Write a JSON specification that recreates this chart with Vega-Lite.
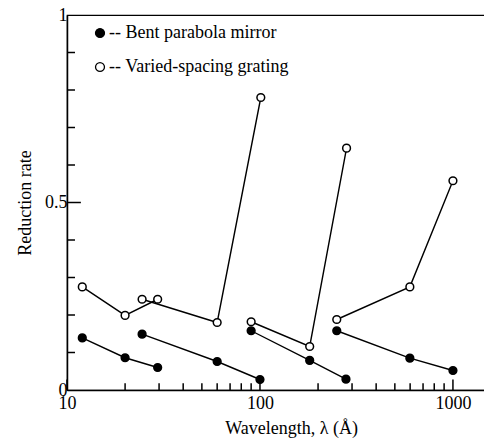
{
  "$schema": "https://vega.github.io/schema/vega-lite/v6.json",
  "width": 418,
  "height": 375,
  "autosize": {"type": "none"},
  "padding": {"left": 67, "top": 15, "right": 0, "bottom": 51},
  "background": "white",
  "config": {
    "view": {"stroke": "black", "strokeWidth": 1.2},
    "font": "Liberation Serif",
    "legend": {"labelFont": "Liberation Serif"},
    "axis": {"grid": false, "ticks": false, "domainColor": "black", "domainWidth": 1.5, "labelColor": "black", "titleColor": "black", "labelFont": "Liberation Serif", "titleFont": "Liberation Serif", "labelFontSize": 18, "titleFontSize": 18, "titleFontWeight": "normal"}
  },
  "datasets": {
    "curves": [
      {"series": "Bent parabola mirror", "grp": "f1", "wl": 12, "rate": 0.139},
      {"series": "Bent parabola mirror", "grp": "f1", "wl": 20, "rate": 0.086},
      {"series": "Bent parabola mirror", "grp": "f1", "wl": 29.5, "rate": 0.060},
      {"series": "Bent parabola mirror", "grp": "f2", "wl": 24.5, "rate": 0.149},
      {"series": "Bent parabola mirror", "grp": "f2", "wl": 60, "rate": 0.076},
      {"series": "Bent parabola mirror", "grp": "f2", "wl": 100, "rate": 0.028},
      {"series": "Bent parabola mirror", "grp": "f3", "wl": 90, "rate": 0.158},
      {"series": "Bent parabola mirror", "grp": "f3", "wl": 181, "rate": 0.079},
      {"series": "Bent parabola mirror", "grp": "f3", "wl": 279, "rate": 0.029},
      {"series": "Bent parabola mirror", "grp": "f4", "wl": 250, "rate": 0.158},
      {"series": "Bent parabola mirror", "grp": "f4", "wl": 598, "rate": 0.085},
      {"series": "Bent parabola mirror", "grp": "f4", "wl": 1000, "rate": 0.052},
      {"series": "Varied-spacing grating", "grp": "o1", "wl": 12, "rate": 0.275},
      {"series": "Varied-spacing grating", "grp": "o1", "wl": 20, "rate": 0.199},
      {"series": "Varied-spacing grating", "grp": "o1", "wl": 29.5, "rate": 0.242},
      {"series": "Varied-spacing grating", "grp": "o2", "wl": 24.5, "rate": 0.242},
      {"series": "Varied-spacing grating", "grp": "o2", "wl": 60, "rate": 0.180},
      {"series": "Varied-spacing grating", "grp": "o2", "wl": 101, "rate": 0.780},
      {"series": "Varied-spacing grating", "grp": "o3", "wl": 90, "rate": 0.182},
      {"series": "Varied-spacing grating", "grp": "o3", "wl": 181, "rate": 0.116},
      {"series": "Varied-spacing grating", "grp": "o3", "wl": 281, "rate": 0.645},
      {"series": "Varied-spacing grating", "grp": "o4", "wl": 250, "rate": 0.188},
      {"series": "Varied-spacing grating", "grp": "o4", "wl": 598, "rate": 0.275},
      {"series": "Varied-spacing grating", "grp": "o4", "wl": 1000, "rate": 0.558}
    ],
    "xticks": [
      {"t": 10, "kind": "major"}, {"t": 20, "kind": "minor"}, {"t": 30, "kind": "minor"}, {"t": 40, "kind": "minor"},
      {"t": 50, "kind": "minor"}, {"t": 60, "kind": "minor"}, {"t": 70, "kind": "minor"}, {"t": 80, "kind": "minor"},
      {"t": 90, "kind": "minor"}, {"t": 100, "kind": "major"}, {"t": 200, "kind": "minor"}, {"t": 300, "kind": "minor"},
      {"t": 400, "kind": "minor"}, {"t": 500, "kind": "minor"}, {"t": 600, "kind": "minor"}, {"t": 700, "kind": "minor"},
      {"t": 800, "kind": "minor"}, {"t": 900, "kind": "minor"}, {"t": 1000, "kind": "major"}
    ],
    "yticks": [
      {"t": 0.1, "kind": "minor"}, {"t": 0.2, "kind": "minor"}, {"t": 0.3, "kind": "minor"}, {"t": 0.4, "kind": "minor"},
      {"t": 0.5, "kind": "major"}, {"t": 0.6, "kind": "minor"}, {"t": 0.7, "kind": "minor"}, {"t": 0.8, "kind": "minor"},
      {"t": 0.9, "kind": "minor"}
    ]
  },
  "layer": [
    {
      "data": {"name": "xticks"},
      "transform": [{"filter": "datum.kind == 'minor'"}],
      "mark": {"type": "rule", "color": "black", "strokeWidth": 1.5},
      "encoding": {
        "x": {"field": "t", "type": "quantitative", "scale": {"type": "log", "domain": [10, 1466], "nice": false},
          "axis": {
            "title": "Wavelength, λ (Å)",
            "format": "d",
            "values": [10, 100, 1000],
            "labelPadding": 4,
            "labelFlush": false,
            "labelOverlap": false,
            "titleX": 224,
            "titleY": 29,
            "titleAnchor": null,
            "titleAlign": "center",
            "titleBaseline": "top"
          }},
        "y": {"datum": 0, "type": "quantitative", "scale": {"domain": [0, 1], "nice": false},
          "axis": {
            "title": "Reduction rate",
            "values": [0, 0.5, 1],
            "labelExpr": "datum.value == 0.5 ? '0.5' : format(datum.value, 'd')",
            "labelPadding": 0,
            "labelFlush": false,
            "labelOverlap": false,
            "titlePadding": 10
          }},
        "y2": {"datum": 0.018}
      }
    },
    {
      "data": {"name": "xticks"},
      "transform": [{"filter": "datum.kind == 'major'"}],
      "mark": {"type": "rule", "color": "black", "strokeWidth": 1.5},
      "encoding": {
        "x": {"field": "t", "type": "quantitative"},
        "y": {"datum": 0, "type": "quantitative"},
        "y2": {"datum": 0.028}
      }
    },
    {
      "data": {"name": "yticks"},
      "transform": [{"filter": "datum.kind == 'minor'"}],
      "mark": {"type": "rule", "color": "black", "strokeWidth": 1.5},
      "encoding": {
        "y": {"field": "t", "type": "quantitative"},
        "x": {"datum": 10, "type": "quantitative"},
        "x2": {"datum": 11.0}
      }
    },
    {
      "data": {"name": "yticks"},
      "transform": [{"filter": "datum.kind == 'major'"}],
      "mark": {"type": "rule", "color": "black", "strokeWidth": 1.5},
      "encoding": {
        "y": {"field": "t", "type": "quantitative"},
        "x": {"datum": 10, "type": "quantitative"},
        "x2": {"datum": 11.8}
      }
    },
    {
      "data": {"name": "curves"},
      "mark": {"type": "line", "color": "black", "strokeWidth": 1.4},
      "encoding": {
        "x": {"field": "wl", "type": "quantitative"},
        "y": {"field": "rate", "type": "quantitative"},
        "detail": {"field": "grp"}
      }
    },
    {
      "data": {"name": "curves"},
      "mark": {"type": "circle", "stroke": "black", "strokeWidth": 1.5, "size": 60, "opacity": 1},
      "encoding": {
        "x": {"field": "wl", "type": "quantitative"},
        "y": {"field": "rate", "type": "quantitative"},
        "fill": {
          "field": "series", "type": "nominal",
          "scale": {"domain": ["Bent parabola mirror", "Varied-spacing grating"], "range": ["black", "white"]},
          "legend": {
            "title": null,
            "orient": "none",
            "legendX": 24,
            "legendY": 9,
            "padding": 0,
            "symbolType": "circle",
            "symbolSize": 80,
            "symbolStrokeColor": "black",
            "symbolStrokeWidth": 1.3,
            "labelFont": "Liberation Serif",
            "labelFontSize": 18,
            "labelColor": "black",
            "labelOffset": 0,
            "labelLimit": 400,
            "rowPadding": 16,
            "labelExpr": "'-- ' + datum.label"
          }
        }
      }
    }
  ]
}
